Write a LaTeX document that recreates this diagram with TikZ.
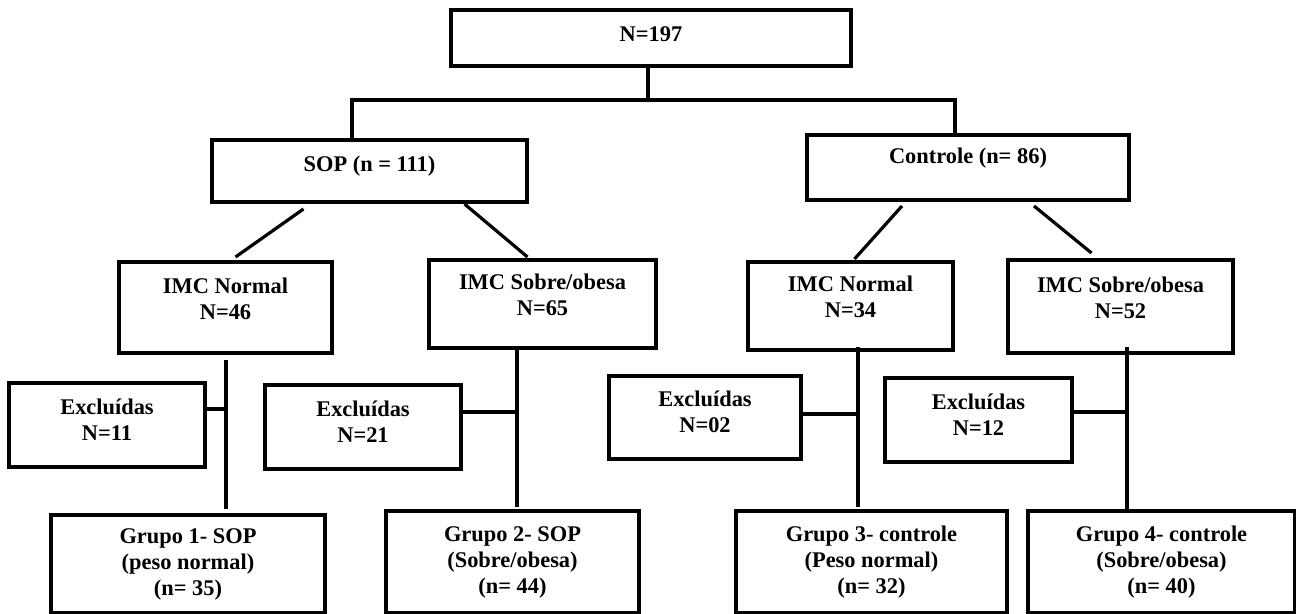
\documentclass[tikz,border=0pt]{standalone}
\usepackage{fontspec}
\setmainfont{Liberation Serif}
\usetikzlibrary{calc}

\begin{document}
\begin{tikzpicture}[x=0.5pt,y=-0.5pt,
  box/.style={draw=black, line width=1.8pt, inner sep=0pt, outer sep=0pt,
    align=center, font=\fontsize{11.2}{13}\selectfont\bfseries},
  lift/.style={text depth=#1},
  link/.style={draw=black, line width=1.6pt}]
\useasboundingbox (0,0) rectangle (1296,614);
% top level
\node[box, lift=4pt, minimum width=200pt, minimum height=28pt] (total) at (651,38) {N=197};
\node[box, lift=7.5pt, minimum width=157.5pt, minimum height=31pt] (sop) at (369.5,171) {SOP (n = 111)};
\node[box, lift=12pt, minimum width=161pt, minimum height=32.5pt] (ctrl) at (968,167.5) {Controle (n= 86)};
% IMC
\node[box, lift=9pt, minimum width=106.5pt, minimum height=45.5pt] (sopnorm) at (225.5,307.5) {IMC Normal\\N=46};
\node[box, lift=9pt, minimum width=113.5pt, minimum height=44pt] (sopobes) at (542.5,304) {IMC Sobre/obesa\\N=65};
\node[box, lift=9pt, minimum width=102.5pt, minimum height=44pt] (ctlnorm) at (850.5,306) {IMC Normal\\N=34};
\node[box, lift=9pt, minimum width=112.5pt, minimum height=46.5pt] (ctlobes) at (1120.5,306.5) {IMC Sobre/obesa\\N=52};
% excluded
\node[box, lift=5.5pt, minimum width=98pt, minimum height=42pt] (exc1) at (107,425) {Excluídas\\N=11};
\node[box, lift=5.5pt, minimum width=98pt, minimum height=42pt] (exc2) at (363,427) {Excluídas\\N=21};
\node[box, lift=5.5pt, minimum width=96pt, minimum height=41.5pt] (exc3) at (705,417.5) {Excluídas\\N=02};
\node[box, lift=5.5pt, minimum width=93.5pt, minimum height=42pt] (exc4) at (978.5,420) {Excluídas\\N=12};
% groups
\node[box, minimum width=137pt, minimum height=49pt] (grp1) at (188,564) {Grupo 1- SOP\\(peso normal)\\(n= 35)};
\node[box, minimum width=126.5pt, minimum height=51pt] (grp2) at (512.5,562) {Grupo 2- SOP\\(Sobre/obesa)\\(n= 44)};
\node[box, minimum width=135.5pt, minimum height=51pt] (grp3) at (871.5,562) {Grupo 3- controle\\(Peso normal)\\(n= 32)};
\node[box, minimum width=133.5pt, minimum height=51pt] (grp4) at (1161.5,562) {Grupo 4- controle\\(Sobre/obesa)\\(n= 40)};

% split of the sample
\coordinate (split) at (648,100);
\coordinate (lt) at (352,100);
\coordinate (rt) at (955,100);
\draw[link] (total.south -| split) -- (split);
\draw[link] (lt |- sop.north) -- (lt) -- (rt) -- (rt |- ctrl.north);

\draw[link] ([shift={(-66,7)}]sop.south) -- ([shift={(10,-5)}]sopnorm.north);
\draw[link] ([shift={(95,2)}]sop.south) -- ([shift={(-15,-3)}]sopobes.north);
\draw[link] ([shift={(-66,6)}]ctrl.south) -- ([shift={(4,-3)}]ctlnorm.north);
\draw[link] ([shift={(66,6)}]ctrl.south) -- ([shift={(-29,-7)}]ctlobes.north);

% stems down to the groups
\coordinate (s1) at (226,360);
\coordinate (s2) at (517,348);
\coordinate (s3) at (858,347);
\coordinate (s4) at (1127,347);
\draw[link, shorten >=3pt] (s1) -- (s1 |- grp1.north);
\draw[link, shorten >=2pt] (s2) -- (s2 |- grp2.north);
\draw[link, shorten >=2pt] (s3) -- (s3 |- grp3.north);
\draw[link, shorten >=1pt] (s4) -- (s4 |- grp4.north);

\coordinate (j1) at (226,409);
\coordinate (j2) at (517,412);
\coordinate (j3) at (858,414);
\coordinate (j4) at (1127,412);
\draw[link] (exc1.east |- j1) -- (j1);
\draw[link] (exc2.east |- j2) -- (j2);
\draw[link] (exc3.east |- j3) -- (j3);
\draw[link] (exc4.east |- j4) -- (j4);
\end{tikzpicture}
\end{document}
